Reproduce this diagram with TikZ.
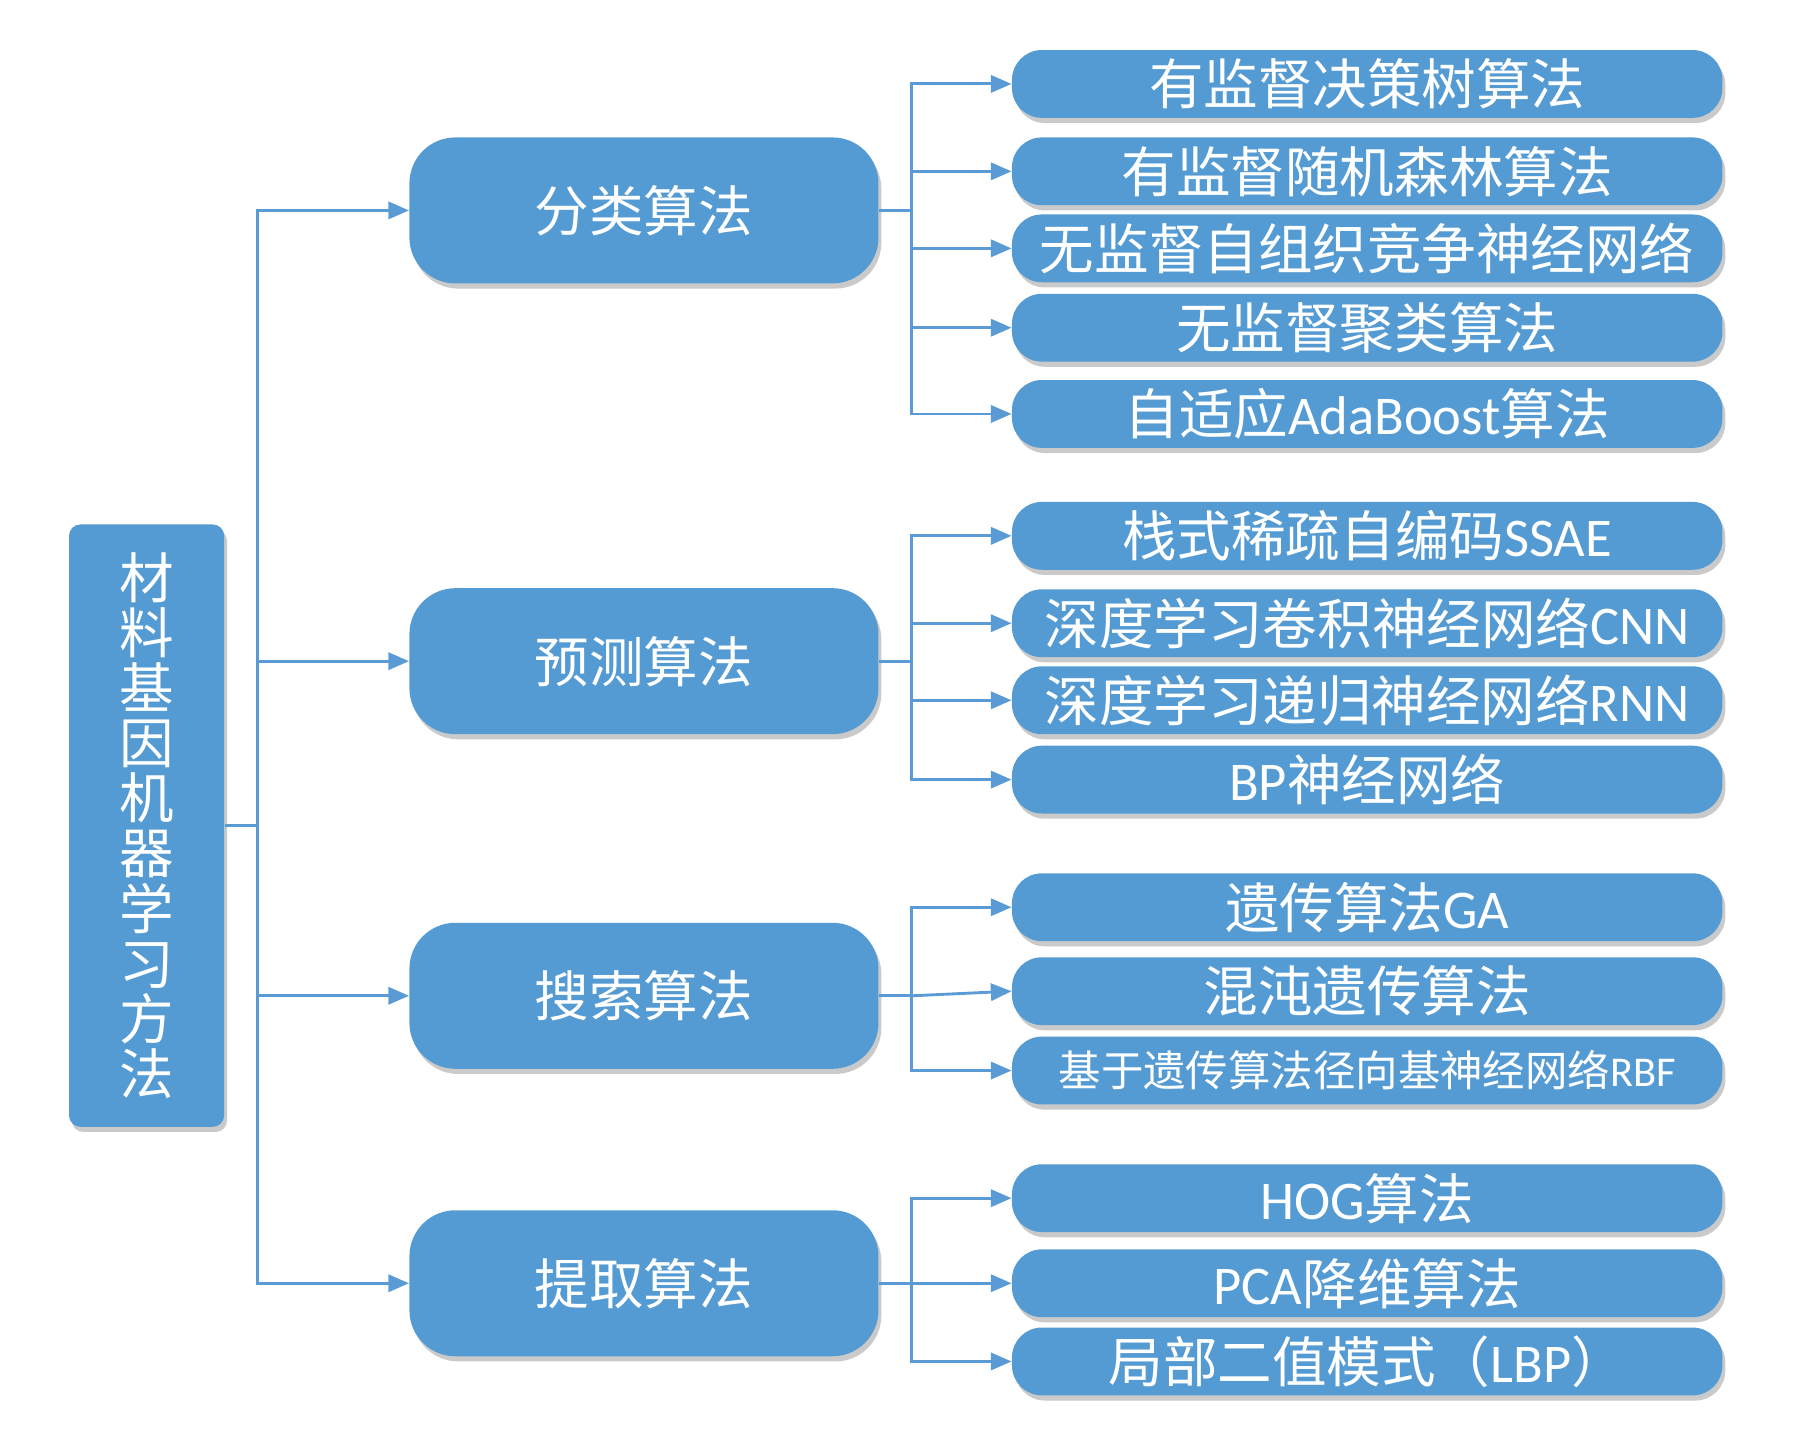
\documentclass[tikz,border=0pt]{standalone}
\usepackage{fontspec}
\setmainfont{Noto Sans CJK SC}
\newfontfamily\latf{Carlito}
\newcommand\LT[1]{{\latf #1}}
\usetikzlibrary{arrows.meta,shadows}
\definecolor{myblue}{HTML}{559BD3}
\definecolor{mylinec}{HTML}{5B9BD5}
\begin{document}
\begin{tikzpicture}[x=0.02cm,y=-0.02cm,
  boxshadow/.style={drop shadow={shadow xshift=0.05cm,shadow yshift=-0.09cm,opacity=0.35,fill=black!60}},
  rootbox/.style={fill=myblue,rounded corners=0.2cm,minimum width=2.7cm,minimum height=10.48cm,inner sep=0pt,text=white,align=center,font=\fontsize{27}{27.3}\selectfont,boxshadow},
  branchbox/.style={fill=myblue,rounded corners=0.8cm,minimum width=8.16cm,minimum height=2.54cm,inner sep=0pt,text=white,font=\fontsize{27}{30}\selectfont,boxshadow},
  leafbox/.style={fill=myblue,rounded corners=0.52cm,minimum width=12.36cm,minimum height=1.18cm,inner sep=0pt,text=white,font=\fontsize{27}{30}\selectfont,boxshadow},
  smallleaf/.style={leafbox,font=\fontsize{21}{24}\selectfont},
  conn/.style={draw=mylinec,line width=0.05cm},
  arr/.style={conn,-{Triangle[length=0.36cm,width=0.3cm]}}
]
\useasboundingbox (0,0) rectangle (1568,1266);

% root
\node[rootbox] (root) at (127.5,718) {材\\料\\基\\因\\机\\器\\学\\习\\方\\法};

% branches
\node[branchbox] (cls) at (560,183) {分类算法};
\node[branchbox] (pred) at (560,575) {预测算法};
\node[branchbox] (srch) at (560,866) {搜索算法};
\node[branchbox] (extr) at (560,1116) {提取算法};

% leaves
\node[leafbox] (l1) at (1189,73) {有监督决策树算法};
\node[leafbox] (l2) at (1189,149) {有监督随机森林算法};
\node[leafbox] (l3) at (1189,216) {无监督自组织竞争神经网络};
\node[leafbox] (l4) at (1189,285) {无监督聚类算法};
\node[leafbox] (l5) at (1189,360) {自适应\LT{AdaBoost}算法};
\node[leafbox] (l6) at (1189,466) {栈式稀疏自编码\LT{SSAE}};
\node[leafbox] (l7) at (1189,542) {深度学习卷积神经网络\LT{CNN}};
\node[leafbox] (l8) at (1189,609) {深度学习递归神经网络\LT{RNN}};
\node[leafbox] (l9) at (1189,678) {\LT{BP}神经网络};
\node[leafbox] (l10) at (1189,789) {遗传算法\LT{GA}};
\node[leafbox] (l11) at (1189,862) {混沌遗传算法};
\node[smallleaf] (l12) at (1189,931) {基于遗传算法径向基神经网络\LT{RBF}};
\node[leafbox] (l13) at (1189,1042) {\LT{HOG}算法};
\node[leafbox] (l14) at (1189,1116) {\LT{PCA}降维算法};
\node[leafbox] (l15) at (1189,1184) {局部二值模式（\LT{LBP}）};

% main bus
\coordinate (mb) at (224,718);
\draw[conn] (root.east) -- (mb);
\draw[arr] (mb) |- (cls.west);
\draw[arr] (mb) |- (pred.west);
\draw[arr] (mb) |- (srch.west);
\draw[arr] (mb) |- (extr.west);

% classification
\coordinate (cb) at (793,183);
\draw[conn] (cls.east) -- (cb);
\foreach \n in {l1,l2,l3,l4,l5} \draw[arr] (cb) |- (\n.west);

% prediction
\coordinate (pb) at (793,575);
\draw[conn] (pred.east) -- (pb);
\foreach \n in {l6,l7,l8,l9} \draw[arr] (pb) |- (\n.west);

% search
\coordinate (sb) at (793,866);
\draw[conn] (srch.east) -- (sb);
\draw[arr] (sb) |- (l10.west);
\draw[arr] (sb) -- (l11.west);
\draw[arr] (sb) |- (l12.west);

% extraction
\coordinate (eb) at (793,1116);
\draw[conn] (extr.east) -- (eb);
\foreach \n in {l13,l14,l15} \draw[arr] (eb) |- (\n.west);
\end{tikzpicture}
\end{document}
